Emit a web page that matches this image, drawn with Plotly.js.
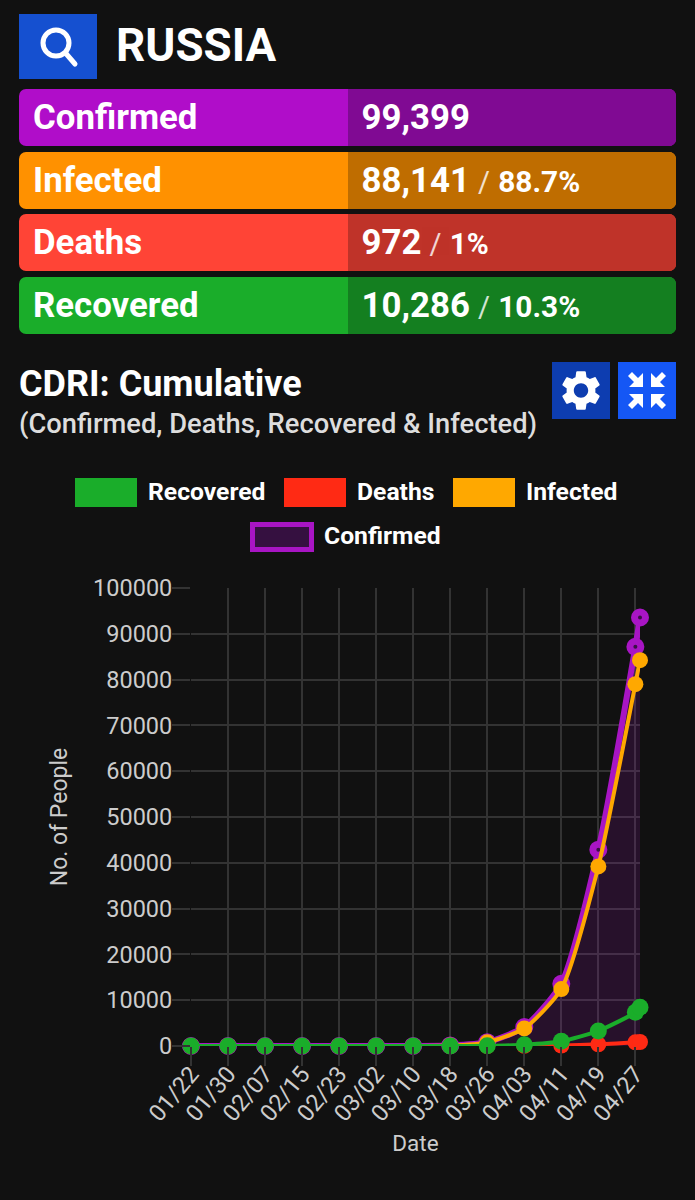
<!DOCTYPE html>
<html>
<head>
<meta charset="utf-8">
<script src="https://cdn.plot.ly/plotly-3.0.1.min.js"></script>
<style>
html,body{margin:0;padding:0;background:#111;width:695px;height:1200px;overflow:hidden;font-family:Roboto,sans-serif;color:#fff}
.abs{position:absolute}
#chart{position:absolute;left:0;top:0;width:695px;height:1200px}
.row{position:absolute;left:19px;width:657px;height:56.5px;border-radius:7px;overflow:hidden}
.row .l,.row .r{position:absolute;top:0;height:100%;line-height:56px;font-weight:700;font-size:34.8px;white-space:nowrap}
.row .l{left:0;width:329px;padding-left:14px;box-sizing:border-box}
.row .r{left:329px;right:0;padding-left:13.5px;box-sizing:border-box}
.row .r small{font-size:29.8px;font-weight:700}
.row .r i{font-style:normal;font-weight:400;font-size:29px;opacity:.8;margin:0 1px}
.btn{position:absolute;display:block}
.sw{position:absolute;box-sizing:border-box}
.lt{position:absolute;font-size:24.7px;font-weight:700;line-height:30px;white-space:nowrap}
</style>
</head>
<body>
<div id="chart"></div>

<svg class="btn" style="left:19px;top:14px" width="78" height="65" viewBox="0 0 78 65">
  <rect width="78" height="65" fill="#1550d0"/>
  <circle cx="37" cy="29" r="13" fill="none" stroke="#fff" stroke-width="5"/>
  <line x1="46.5" y1="39" x2="56" y2="50" stroke="#fff" stroke-width="5" stroke-linecap="round"/>
</svg>
<div class="abs" style="left:116px;top:19px;font-size:45.7px;font-weight:700;line-height:54px">RUSSIA</div>
<div id="rows"></div>

<div class="abs" style="left:19px;top:364px;font-size:36px;font-weight:700;line-height:40px;white-space:nowrap">CDRI: Cumulative</div>
<div class="abs" style="left:19px;top:409px;font-size:27.3px;font-weight:500;line-height:30px;color:#ddd;white-space:nowrap">(Confirmed, Deaths, Recovered &amp; Infected)</div>

<svg class="btn" style="left:552px;top:362px" width="58" height="57" viewBox="0 0 58 57">
  <rect width="58" height="57" fill="#0d3db0"/>
  <g transform="translate(5,4.5) scale(2)"><path fill="#fff" d="M19.14 12.94c.04-.3.06-.61.06-.94 0-.32-.02-.64-.07-.94l2.03-1.58c.18-.14.23-.41.12-.61l-1.92-3.32c-.12-.22-.37-.29-.59-.22l-2.39.96c-.5-.38-1.03-.7-1.62-.94l-.36-2.54c-.04-.24-.24-.41-.48-.41h-3.84c-.24 0-.43.17-.47.41l-.36 2.54c-.59.24-1.13.57-1.62.94l-2.39-.96c-.22-.08-.47 0-.59.22L2.74 8.87c-.12.21-.08.47.12.61l2.03 1.58c-.05.3-.09.63-.09.94s.02.64.07.94l-2.03 1.58c-.18.14-.23.41-.12.61l1.92 3.32c.12.22.37.29.59.22l2.39-.96c.5.38 1.03.7 1.62.94l.36 2.54c.05.24.24.41.48.41h3.84c.24 0 .44-.17.47-.41l.36-2.54c.59-.24 1.13-.56 1.62-.94l2.39.96c.22.08.47 0 .59-.22l1.92-3.32c.12-.22.07-.47-.12-.61l-2.01-1.58zM12 15.6c-1.98 0-3.6-1.62-3.6-3.6s1.62-3.6 3.6-3.6 3.6 1.62 3.6 3.6-1.62 3.6-3.6 3.6z"/></g>
</svg>
<svg class="btn" style="left:618px;top:362px" width="58" height="57" viewBox="0 0 58 57">
  <rect width="58" height="57" fill="#1557f5"/>
  <g fill="#fff">
    <path d="M10 14 L14 10 L20 16 L25 11 L25 25 L11 25 L16 20 Z"/>
    <path d="M48 14 L44 10 L38 16 L33 11 L33 25 L47 25 L42 20 Z"/>
    <path d="M10 43 L14 47 L20 41 L25 46 L25 32 L11 32 L16 37 Z"/>
    <path d="M48 43 L44 47 L38 41 L33 46 L33 32 L47 32 L42 37 Z"/>
  </g>
</svg>
<div id="legend"></div>

<script>
/* ---------- panel figures ---------- */
var countryName = "RUSSIA";
var panelLabels = ["Confirmed", "Infected", "Deaths", "Recovered"];
var panelCounts = ["99,399", "88,141", "972", "10,286"];
var panelShares = ["", "88.7%", "1%", "10.3%"];

/* ---------- chart data ---------- */
var dates = ["2020-01-22","2020-01-30","2020-02-07","2020-02-15","2020-02-23","2020-03-02","2020-03-10","2020-03-18","2020-03-26","2020-04-03","2020-04-11","2020-04-19","2020-04-27","2020-04-28"];
var confirmed = [0,0,2,2,2,3,20,114,840,4149,13584,42853,87147,93558];
var infected  = [0,0,2,2,2,3,19,106,799,3834,12433,39201,79007,84235];
var deaths    = [0,0,0,0,0,0,0,0,3,34,106,361,794,867];
var recovered = [0,0,0,0,0,0,1,8,38,281,1045,3291,7346,8456];

var seriesNames = ["Confirmed","Infected","Deaths","Recovered"];
var legendNames = ["Recovered","Deaths","Infected","Confirmed"];

/* ---------- styles ---------- */
var rowTops = [89,152,214,277];
var rowLeft = ["#b00dc9","#ff9100","#ff4436","#1aad2a"];
var rowRight = ["#800a93","#bf6d00","#bf3329","#147f20"];
var PURPLE="#a815c4", ORANGE="#ffa800", RED="#ff2a14", GREEN="#1aad2a", GRID="#333333";

var rowsHtml = "";
panelLabels.forEach(function(lab,i){
  var share = panelShares[i] ? '<i> / </i><small>'+panelShares[i]+'</small>' : '';
  rowsHtml += '<div class="row" style="top:'+rowTops[i]+'px;background:'+rowLeft[i]+'">'
    + '<div class="l">'+lab+'</div>'
    + '<div class="r" style="background:'+rowRight[i]+'">'+panelCounts[i]+share+'</div></div>';
});
document.getElementById("rows").innerHTML = rowsHtml;

var lg = [
 {n:0,x:75,y:478,w:62,h:29,bg:GREEN,b:"none",tx:148,ty:477},
 {n:1,x:284,y:478,w:62,h:29,bg:RED,b:"none",tx:357,ty:477},
 {n:2,x:453,y:478,w:62,h:29,bg:ORANGE,b:"none",tx:526,ty:477},
 {n:3,x:250,y:522,w:64,h:30,bg:"#351040",b:"5px solid "+PURPLE,tx:324,ty:521}
];
document.getElementById("legend").innerHTML = lg.map(function(o){
  return '<div class="sw" style="left:'+o.x+'px;top:'+o.y+'px;width:'+o.w+'px;height:'+o.h+'px;background:'+o.bg+';border:'+o.b+'"></div>'
       + '<div class="lt" style="left:'+o.tx+'px;top:'+o.ty+'px">'+legendNames[o.n]+'</div>';
}).join("");

function tr(name,y,color,lw,msize,extra){
  var t = {x:dates,y:y,name:name,type:"scatter",mode:"lines+markers",cliponaxis:false,
    line:{color:color,width:lw,shape:"spline",smoothing:0.6},
    marker:{color:color,size:msize}};
  for(var k in extra) t[k]=extra[k];
  return t;
}
var traces = [
  tr(seriesNames[0],confirmed,PURPLE,6,11,{fill:"tozeroy",fillcolor:"rgba(168,21,196,0.15)",
     marker:{color:"#3a1045",size:11,line:{color:PURPLE,width:7}}}),
  tr(seriesNames[1],infected,ORANGE,4,16),
  tr(seriesNames[2],deaths,RED,4,16),
  tr(seriesNames[3],recovered,GREEN,4,17)
];
var layout = {
  width:695,height:1200,showlegend:false,
  paper_bgcolor:"rgba(0,0,0,0)",plot_bgcolor:"#111111",
  margin:{l:190.5,r:55,t:588,b:154,pad:0},
  font:{family:"Roboto, sans-serif",color:"#cccccc"},
  xaxis:{type:"date",range:["2020-01-22","2020-04-28"],tick0:"2020-01-22",dtick:691200000,tickformat:"%m/%d",
    tickangle:-50,tickfont:{size:23.5,color:"#cccccc"},showgrid:true,gridcolor:GRID,gridwidth:2,
    ticks:"outside",ticklen:19,tickwidth:2,tickcolor:GRID,ticklabelstandoff:-15,zeroline:false,showline:false,
    title:{text:"Date",font:{size:22.5,color:"#cccccc"},standoff:9}},
  yaxis:{range:[0,100000],dtick:10000,tickformat:"d",tickfont:{size:23.5,color:"#cccccc"},
    showgrid:true,gridcolor:GRID,gridwidth:2,ticks:"outside",ticklen:18,tickwidth:2,tickcolor:GRID,ticklabelstandoff:-5,
    zeroline:false,showline:false,
    title:{text:"No. of People",font:{size:23,color:"#cccccc"},standoff:18}}
};
Plotly.newPlot("chart",traces,layout,{displayModeBar:false,staticPlot:true});
</script>
</body>
</html>
